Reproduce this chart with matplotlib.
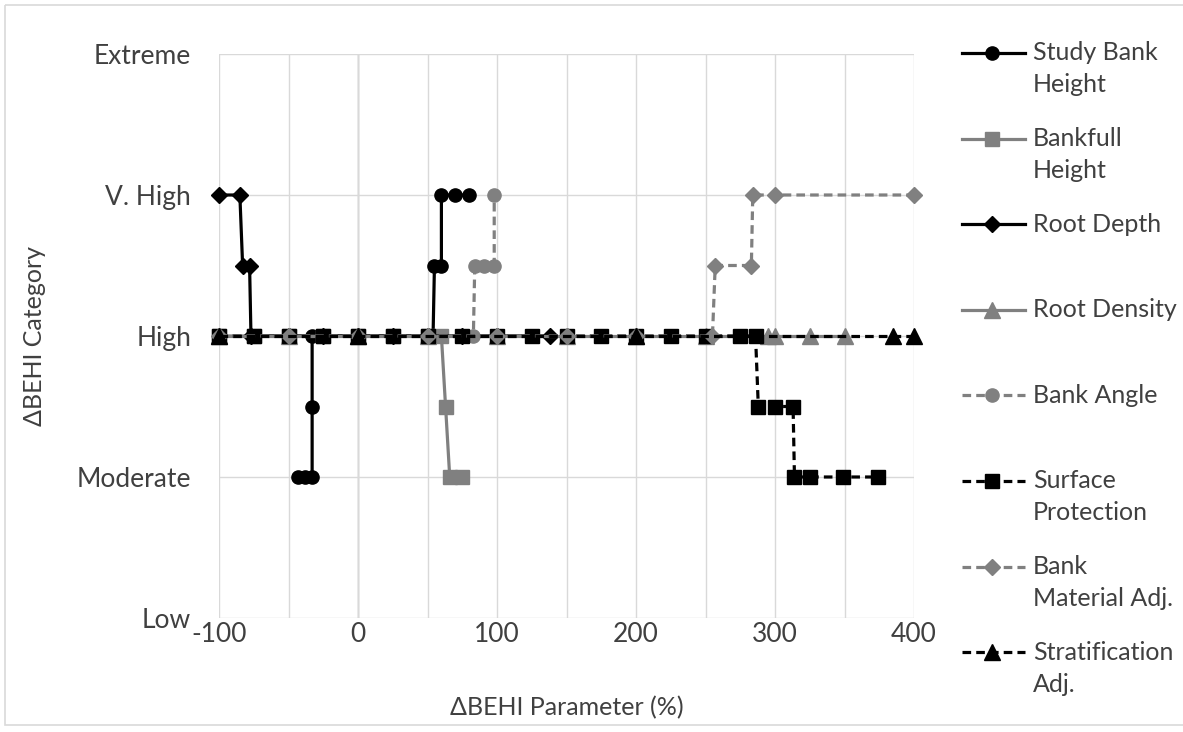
import matplotlib
matplotlib.use("Agg")
import matplotlib.pyplot as plt
from matplotlib.lines import Line2D
from matplotlib.patches import Rectangle

plt.rcParams['font.family'] = ['Lato', 'DejaVu Sans']
plt.rcParams['axes.unicode_minus'] = False

# ---------------- data ----------------
categories = ["Low", "Moderate", "High", "V. High", "Extreme"]
x_ticks = [-100, 0, 100, 200, 300, 400]

study_x = [-43, -38, -33, -33, -33, 0, 25, 50, 54, 55, 60, 60, 70, 80]
study_y = [1, 1, 1, 1.5, 2, 2, 2, 2, 2, 2.5, 2.5, 3, 3, 3]

bankfull_x = [-100, -75, -50, -25, 0, 25, 50, 60, 63, 66, 75]
bankfull_y = [2, 2, 2, 2, 2, 2, 2, 2, 1.5, 1, 1]

rootdepth_x = [-100, -85, -83, -78, -77, -50, -25, 0, 25, 50, 75, 100, 138]
rootdepth_y = [3, 3, 2.5, 2.5, 2, 2, 2, 2, 2, 2, 2, 2, 2]

rootdens_x = [-100, -50, 0, 50, 100, 150, 200, 250, 295, 300, 325, 350]
rootdens_y = [2, 2, 2, 2, 2, 2, 2, 2, 2, 2, 2, 2]

bankangle_x = [-100, -75, -50, -25, 0, 25, 50, 75, 83, 84, 91, 98, 98]
bankangle_y = [2, 2, 2, 2, 2, 2, 2, 2, 2, 2.5, 2.5, 2.5, 3]

surface_x = [-100, -75, -50, -25, 0, 25, 50, 75, 100, 125, 150, 175, 200,
             225, 250, 275, 286, 288, 300, 313, 314, 325, 349, 374]
surface_y = [2, 2, 2, 2, 2, 2, 2, 2, 2, 2, 2, 2, 2,
             2, 2, 2, 2, 1.5, 1.5, 1.5, 1, 1, 1, 1]

material_x = [-100, -50, 0, 50, 100, 150, 200, 255, 257, 283, 284, 300, 400]
material_y = [2, 2, 2, 2, 2, 2, 2, 2, 2.5, 2.5, 3, 3, 3]

strat_x = [-100, 0, 200, 385, 400]
strat_y = [2, 2, 2, 2, 2]

BLACK = "#000000"
GRAY = "#808080"
DASH = (0, (2.7, 1.6))
LW = 2.3

series = [
    ("Study Bank\nHeight", study_x, study_y, BLACK, "-", "o", 9.5),
    ("Bankfull\nHeight", bankfull_x, bankfull_y, GRAY, "-", "s", 10),
    ("Root Depth", rootdepth_x, rootdepth_y, BLACK, "-", "D", 8.5),
    ("Root Density", rootdens_x, rootdens_y, GRAY, "-", "^", 11),
    ("Bank Angle", bankangle_x, bankangle_y, GRAY, DASH, "o", 9.5),
    ("Surface\nProtection", surface_x, surface_y, BLACK, DASH, "s", 10),
    ("Bank\nMaterial Adj.", material_x, material_y, GRAY, DASH, "D", 8.5),
    ("Stratification\nAdj.", strat_x, strat_y, BLACK, DASH, "^", 11),
]

W, H = 1183, 732
fig = plt.figure(figsize=(W / 100, H / 100), dpi=100)
fig.patch.set_facecolor("white")

left, right, top, bottom = 219, 914, 54, 618
ax = fig.add_axes([left / W, 1 - bottom / H, (right - left) / W, (bottom - top) / H])

for lab, xs, ys, c, ls, m, ms in series:
    ax.plot(xs, ys, color=c, linestyle=ls, linewidth=LW, marker=m,
            markersize=ms, markerfacecolor=c, markeredgecolor=c, clip_on=False,
            zorder=3)

ax.set_xlim(-100, 400)
ax.set_ylim(0, 4)
ax.set_xticks(x_ticks)
ax.set_xticks(range(-100, 401, 50), minor=True)
ax.set_yticks(range(len(categories)))
ax.set_yticklabels(categories)
ax.grid(True, which="both", axis="x", color="#d9d9d9", linewidth=1.0, zorder=0)
ax.grid(True, which="major", axis="y", color="#d9d9d9", linewidth=1.0, zorder=0)
ax.axvline(0, color="#a6a6a6", linewidth=1.0, zorder=1)
for s in ax.spines.values():
    s.set_visible(False)
ax.tick_params(which="both", length=0)
ax.tick_params(axis="y", pad=20, labelsize=19, labelcolor="#404040")
ax.tick_params(axis="x", pad=3, labelsize=19, labelcolor="#404040")
ax.set_xlabel("ΔBEHI Parameter (%)", fontsize=18, color="#404040", labelpad=35)
ax.set_ylabel("ΔBEHI Category", fontsize=18, color="#404040", labelpad=22)

# ---------------- legend (manual, Excel style) ----------------
ov = fig.add_axes([0, 0, 1, 1], facecolor="none")
ov.set_xlim(0, W)
ov.set_ylim(H, 0)
ov.axis("off")
row0, row_step, line_step = 53, 85.6, 32
for i, (lab, xs, ys, c, ls, m, ms) in enumerate(series):
    yy = row0 + i * row_step
    ov.add_line(Line2D([962, 1025], [yy, yy], color=c, linestyle=ls, linewidth=LW))
    ov.add_line(Line2D([992], [yy], color=c, marker=m, markersize=ms,
                       markerfacecolor=c, markeredgecolor=c))
    for j, part in enumerate(lab.split("\n")):
        ov.text(1033, yy + j * line_step, part, fontsize=18, color="#404040",
                ha="left", va="center")

ov.add_patch(Rectangle((5, 5), W + 20, H - 12, fill=False, edgecolor="#d9d9d9",
                       linewidth=1.2))

fig.savefig("out.png", dpi=100)
